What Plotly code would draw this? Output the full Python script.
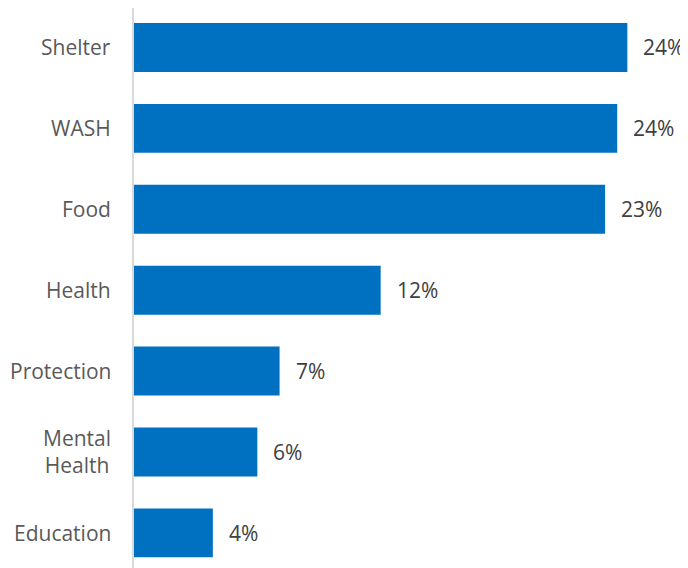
import plotly.graph_objects as go

categories = ["Shelter", "WASH", "Food", "Health", "Protection", "Mental<br>Health", "Education"]
values = [24.4, 23.9, 23.3, 12.2, 7.2, 6.1, 3.9]
value_labels = ["24%", "24%", "23%", "12%", "7%", "6%", "4%"]

FONT = "Open Sans"

fig = go.Figure()
fig.add_trace(go.Bar(
    x=values, y=categories, orientation="h",
    marker=dict(color="#0070C0", line=dict(width=0)),
    hoverinfo="skip",
))

annotations = []
for c, v, t in zip(categories, values, value_labels):
    annotations.append(dict(x=v, y=c, xref="x", yref="y", text=t, showarrow=False,
                            xanchor="left", yanchor="middle", xshift=14,
                            font=dict(family=FONT, size=21, color="#404040")))
    annotations.append(dict(x=0, y=c, xref="paper", yref="y", text=c, showarrow=False,
                            xanchor="right", yanchor="middle", xshift=-21, align="center",
                            font=dict(family=FONT, size=21, color="#595959")))

fig.update_layout(
    width=680, height=560,
    margin=dict(l=126, r=0, t=0, b=0),
    paper_bgcolor="white", plot_bgcolor="white",
    bargap=0.395,
    showlegend=False,
    annotations=annotations,
    xaxis=dict(range=[0, 27.4], showgrid=False, zeroline=False, showticklabels=False,
               showline=False, fixedrange=True),
    yaxis=dict(range=[6.434, -0.488], showgrid=False, zeroline=False, showticklabels=False,
               showline=True, linecolor="#d9d9d9", linewidth=2, ticks=""),
)

fig.write_html("out.html")
